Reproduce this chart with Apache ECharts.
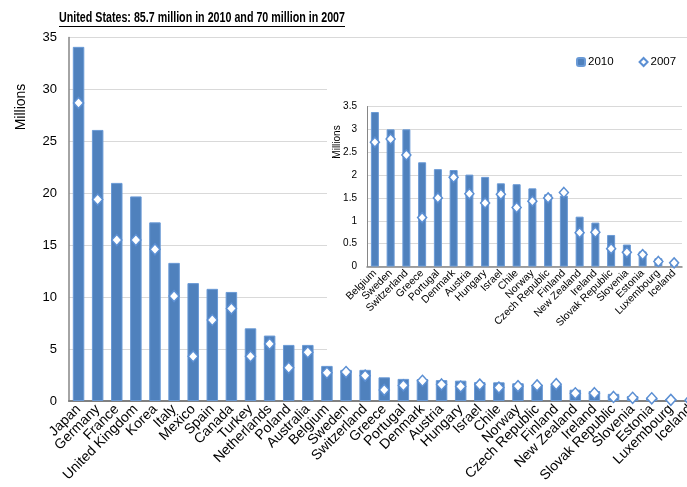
<!DOCTYPE html>
<html>
<head>
<meta charset="utf-8">
<script src="https://cdn.jsdelivr.net/npm/echarts@6/dist/echarts.min.js"></script>
<style>
  html, body { margin: 0; padding: 0; background: #fff; overflow: hidden; }
  #chart { width: 700px; height: 487px; }
</style>
</head>
<body>
<div id="chart"></div>
<script>
// Number of people (millions), 2010 bars and 2007 markers
const countries = ['Japan', 'Germany', 'France', 'United Kingdom', 'Korea', 'Italy', 'Mexico', 'Spain',
  'Canada', 'Turkey', 'Netherlands', 'Poland', 'Australia', 'Belgium', 'Sweden', 'Switzerland', 'Greece',
  'Portugal', 'Denmark', 'Austria', 'Hungary', 'Israel', 'Chile', 'Norway', 'Czech Republic', 'Finland',
  'New Zealand', 'Ireland', 'Slovak Republic', 'Slovenia', 'Estonia', 'Luxembourg', 'Iceland'];
const values2010 = [34.1, 26.1, 21.0, 19.7, 17.2, 13.3, 11.35, 10.8, 10.5, 7.0, 6.3, 5.4, 5.4, 3.38, 3.0, 3.0,
  2.28, 2.13, 2.11, 2.01, 1.96, 1.82, 1.80, 1.71, 1.58, 1.55, 1.09, 0.96, 0.69, 0.48, 0.33, 0.18, 0.095];
const values2007 = [28.7, 19.4, 15.5, 15.5, 14.6, 10.1, 4.3, 7.8, 8.9, 4.3, 5.5, 3.2, 4.7, 2.72, 2.79, 2.44,
  1.07, 1.50, 1.95, 1.59, 1.39, 1.58, 1.29, 1.43, 1.50, 1.62, 0.74, 0.75, 0.39, 0.31, 0.26, 0.11, 0.08];
const seriesNames = ['2010', '2007'];
const titleText = 'United States: 85.7 million in 2010 and 70 million in 2007';
const axisName = 'Millions';
// the zoomed panel starts at this country
const insetFrom = countries.indexOf('Belgium');

const FONT = '"Liberation Sans", Arial, sans-serif';
const BLUE = '#4F81BD';
const EDGE = '#6A9AD6';

const insetCats = countries.slice(insetFrom);
const inset2010 = values2010.slice(insetFrom);
const inset2007 = values2007.slice(insetFrom);

// squeeze the bold title into a condensed look of the given width
const TITLE_LEFT = 59, TITLE_WIDTH = 286, TITLE_SIZE = 15;
const measure = document.createElement('canvas').getContext('2d');
measure.font = 'bold ' + TITLE_SIZE + 'px ' + FONT;
const titleScale = TITLE_WIDTH / measure.measureText(titleText).width;

const chart = echarts.init(document.getElementById('chart'), null, { renderer: 'canvas' });

chart.setOption({
  animation: false,
  backgroundColor: '#fff',
  textStyle: { fontFamily: FONT },
  legend: {
    data: seriesNames,
    left: 571, top: 51,
    itemWidth: 8, itemHeight: 8, itemGap: 25,
    textStyle: { fontFamily: FONT, fontSize: 11.5, color: '#000', padding: [0, 0, 0, -2] }
  },
  graphic: [
    { type: 'text', z: 10, x: TITLE_LEFT, y: 18, scaleX: titleScale, originX: 0,
      style: { text: titleText, fontFamily: FONT, fontSize: TITLE_SIZE, fontWeight: 'bold', fill: '#000',
        align: 'left', verticalAlign: 'middle' } },
    // underline for the title
    { type: 'line', z: 10, shape: { x1: TITLE_LEFT, y1: 26.5, x2: TITLE_LEFT + TITLE_WIDTH, y2: 26.5 },
      style: { stroke: '#000', lineWidth: 1.2 } },
    // white panel behind the zoomed chart
    { type: 'rect', z: 1, shape: { x: 327, y: 40, width: 380, height: 314 }, style: { fill: '#fff' } },
    { type: 'text', z: 10, x: 21, y: 107, rotation: Math.PI / 2,
      style: { text: axisName, fontFamily: FONT, fontSize: 14, fill: '#000', align: 'center', verticalAlign: 'middle' } },
    { type: 'text', z: 10, x: 337, y: 142, rotation: Math.PI / 2,
      style: { text: axisName, fontFamily: FONT, fontSize: 10, fill: '#000', align: 'center', verticalAlign: 'middle' } }
  ],
  grid: [
    { left: 69, right: 0.5, top: 37.5, bottom: 86 },
    { left: 367, right: 18, top: 106.5, bottom: 220.5, z: 3 }
  ],
  xAxis: [
    {
      type: 'category', data: countries, gridIndex: 0,
      axisLine: { lineStyle: { color: '#808080', width: 2.2 } },
      axisTick: { show: false },
      axisLabel: { rotate: 45, interval: 0, fontFamily: FONT, fontSize: 14, color: '#000', margin: 6 }
    },
    {
      type: 'category', data: insetCats, gridIndex: 1, z: 3,
      axisLine: { lineStyle: { color: '#868686', width: 1.5 } },
      axisTick: { show: false },
      axisLabel: { rotate: 45, interval: 0, fontFamily: FONT, fontSize: 10.5, color: '#000', margin: 5 }
    }
  ],
  yAxis: [
    {
      type: 'value', gridIndex: 0, min: 0, max: 35, interval: 5,
      axisLine: { show: true, lineStyle: { color: '#868686', width: 1.5 } },
      axisTick: { show: false },
      axisLabel: { fontFamily: FONT, fontSize: 13, color: '#000', margin: 12 },
      splitLine: { lineStyle: { color: '#D9D9D9', width: 1.2 } }
    },
    {
      type: 'value', gridIndex: 1, min: 0, max: 3.5, interval: 0.5, z: 3,
      axisLine: { show: true, lineStyle: { color: '#868686', width: 1 } },
      axisTick: { show: false },
      axisLabel: { fontFamily: FONT, fontSize: 10, color: '#000', margin: 10 },
      splitLine: { lineStyle: { color: '#D9D9D9', width: 1 } }
    }
  ],
  series: [
    {
      name: seriesNames[0], type: 'bar', xAxisIndex: 0, yAxisIndex: 0, data: values2010,
      barWidth: 11.5, z: 2,
      itemStyle: { color: BLUE, borderColor: EDGE, borderWidth: 1 }
    },
    {
      name: seriesNames[1], type: 'scatter', xAxisIndex: 0, yAxisIndex: 0, data: values2007,
      symbol: 'diamond', symbolSize: [10, 11], z: 3,
      itemStyle: { color: '#fff', borderColor: '#5B8FD3', borderWidth: 1.5, opacity: 1 }
    },
    {
      name: seriesNames[0], type: 'bar', xAxisIndex: 1, yAxisIndex: 1, data: inset2010,
      barWidth: 8, z: 4,
      itemStyle: { color: BLUE, borderColor: EDGE, borderWidth: 1 }
    },
    {
      name: seriesNames[1], type: 'scatter', xAxisIndex: 1, yAxisIndex: 1, data: inset2007,
      symbol: 'diamond', symbolSize: [9, 10], z: 5,
      itemStyle: { color: '#fff', borderColor: '#5B8FD3', borderWidth: 1.5, opacity: 1 }
    }
  ]
});
</script>
</body>
</html>
